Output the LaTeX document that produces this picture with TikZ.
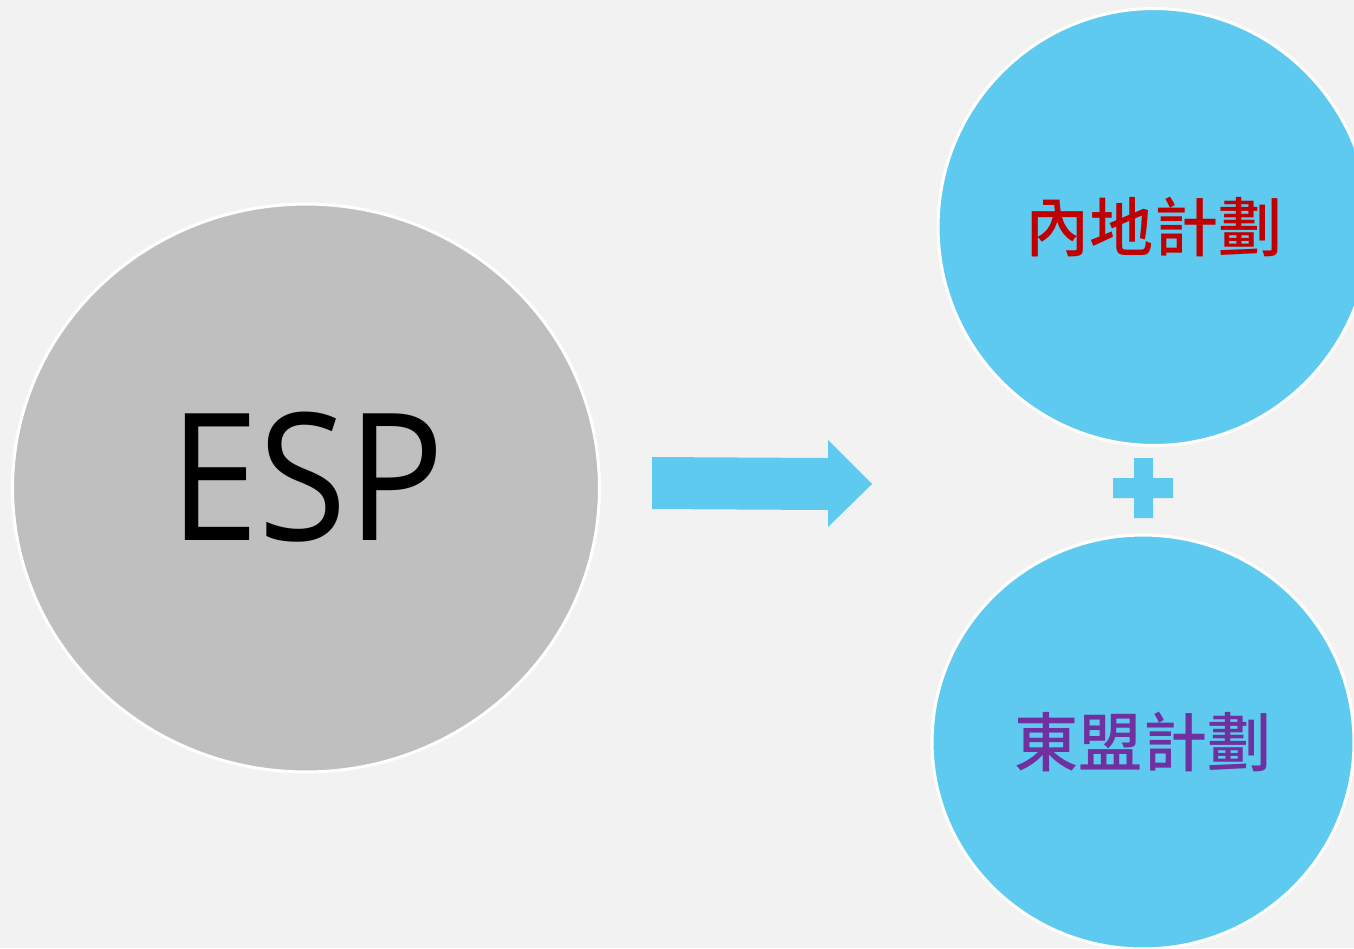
\documentclass[tikz,border=0pt]{standalone}
\usepackage{fontspec}
\setmainfont{Open Sans}
\newfontfamily\cjk{Noto Sans CJK TC Medium}
\usetikzlibrary{positioning, shapes.geometric}

\definecolor{bgGray}{HTML}{F2F2F2}
\definecolor{espGray}{HTML}{BFBFBF}
\definecolor{planBlue}{HTML}{5FCAEF}
\definecolor{planRed}{HTML}{C00000}
\definecolor{planPurple}{HTML}{7030A0}

\tikzset{
	bubble/.style = {ellipse, draw = white, line width = 0.06cm, inner sep = 0pt},
	plan/.style = {bubble, fill = planBlue, font = \cjk\fontsize{36.5}{36.5}\selectfont},
}

\begin{document}
\begin{tikzpicture}[x = 0.02cm, y = -0.02cm]
	\useasboundingbox[fill = bgGray] (0,0) rectangle (1354,948);
	\clip (0,0) rectangle (1354,948);
	
	\node[bubble, fill = espGray, minimum width = 11.74cm, minimum height = 11.36cm] (ESP) at (306,488) {};
	\node[font = \fontsize{101}{101}\selectfont, xscale = 0.91] (ESPtext) at (307,477) {ESP};
	
	\node[plan, minimum width = 8.64cm, minimum height = 8.74cm, text = planRed] (P1) at (1154,227) {內地計劃};
	\node[plan, minimum width = 8.44cm, minimum height = 8.28cm, text = planPurple] (P2) at (1143,742) {東盟計劃};
	
	% arrow and plus sign
	\fill[planBlue] (652,457) -- (828,458) -- (828,440) -- (872,484) -- (828,527) -- (828,510) -- (652,509) -- cycle;
	\fill[planBlue] (1134,458) rectangle (1153,518) (1113,478) rectangle (1173,498);
\end{tikzpicture}
\end{document}
